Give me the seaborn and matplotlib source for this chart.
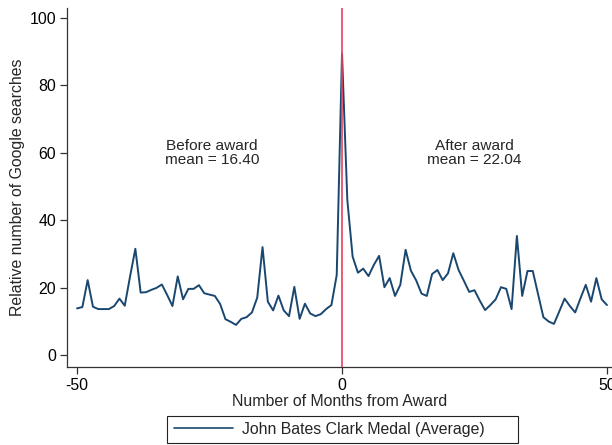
import matplotlib
matplotlib.use("Agg")
import matplotlib.pyplot as plt
from matplotlib.patches import Rectangle
import numpy as np
import pandas as pd
import seaborn as sns

# Average monthly Google search interest around the award month
months = list(range(-50, 51))
searches = [
    13.8, 14.2, 22.2, 14.3, 13.6, 13.6, 13.6, 14.5, 16.7, 14.6,   # -50 .. -41
    23.3, 31.5, 18.5, 18.6, 19.3, 19.9, 20.9, 17.8, 14.5, 23.3,   # -40 .. -31
    16.5, 19.6, 19.6, 20.7, 18.3, 17.9, 17.5, 15.1, 10.6, 9.8,    # -30 .. -21
    8.9, 10.7, 11.2, 12.6, 17.0, 32.0, 15.8, 13.2, 17.6, 13.2,    # -20 .. -11
    11.5, 20.2, 10.7, 15.2, 12.3, 11.5, 12.1, 13.6, 14.8, 23.7,   # -10 .. -1
    89.5,                                                        # 0
    46.0, 29.2, 24.4, 25.6, 23.4, 26.7, 29.4, 20.1, 22.8, 17.5,   # 1 .. 10
    20.8, 31.2, 25.0, 22.1, 18.2, 17.5, 24.0, 25.2, 22.2, 24.2,   # 11 .. 20
    30.2, 25.2, 22.0, 18.7, 19.2, 16.1, 13.3, 14.8, 16.5, 20.1,   # 21 .. 30
    19.6, 13.6, 35.3, 17.5, 24.9, 24.9, 18.0, 11.2, 9.9, 9.2,     # 31 .. 40
    12.9, 16.7, 14.5, 12.6, 16.8, 20.8, 15.8, 22.8, 16.5, 14.8,   # 41 .. 50
]
series_label = "John Bates Clark Medal (Average)"
before_text = "Before award\nmean = 16.40"
after_text = "After award\nmean = 22.04"
x_ticks = [-50, 0, 50]
y_ticks = [0, 20, 40, 60, 80, 100]

df = pd.DataFrame({"month": months, "searches": searches})

sns.set_style("ticks")
plt.rcParams["font.family"] = ["Liberation Sans", "DejaVu Sans"]
plt.rcParams["axes.unicode_minus"] = False

W, H = 612, 445
fig = plt.figure(figsize=(W / 100, H / 100), dpi=100)
ax = fig.add_axes([67 / W, 78 / H, 1 - 67 / W, 359 / H])

line_color = "#1a476f"
sns.lineplot(data=df, x="month", y="searches", ax=ax, color=line_color,
             linewidth=1.4, label=series_label, legend=False)
ax.axvline(0, color="#e8415a", linewidth=1.2, zorder=3)

ax.set_xlim(-51.9, 50.95)
ax.set_ylim(-3.6, 103)
ax.set_xticks(x_ticks)
ax.set_yticks(y_ticks)
ax.tick_params(axis="both", labelsize=11.4, length=5, width=0.9, color="#333333",
               labelcolor="black", pad=3)
for s in ("top", "right"):
    ax.spines[s].set_visible(False)
for s in ("left", "bottom"):
    ax.spines[s].set_color("#333333")
    ax.spines[s].set_linewidth(0.9)

ax.set_xlabel("Number of Months from Award", fontsize=11.4, labelpad=1)
ax.set_ylabel("Relative number of Google searches", fontsize=11.4, labelpad=3)

ax.text(-24.5, 60, before_text, ha="center", va="center", fontsize=11.1,
        linespacing=1.0)
ax.text(25, 60, after_text, ha="center", va="center", fontsize=11.1,
        linespacing=1.0)

# Legend below the plot, with a plain rectangular frame
handles, labels = ax.get_legend_handles_labels()
leg = fig.legend(handles, labels, loc="center left",
                 bbox_to_anchor=(174 / W, 1 - 429.5 / H),
                 frameon=False, fontsize=11.4, handlelength=3.75,
                 handletextpad=0.55, borderpad=0, borderaxespad=0)
leg.get_lines()[0].set_linewidth(1.2)
fig.add_artist(Rectangle((167 / W, 1 - 443 / H), (518 - 167) / W, 27 / H,
                         transform=fig.transFigure, fill=False,
                         edgecolor="#222222", linewidth=0.8))

fig.savefig("out.png", dpi=100)
